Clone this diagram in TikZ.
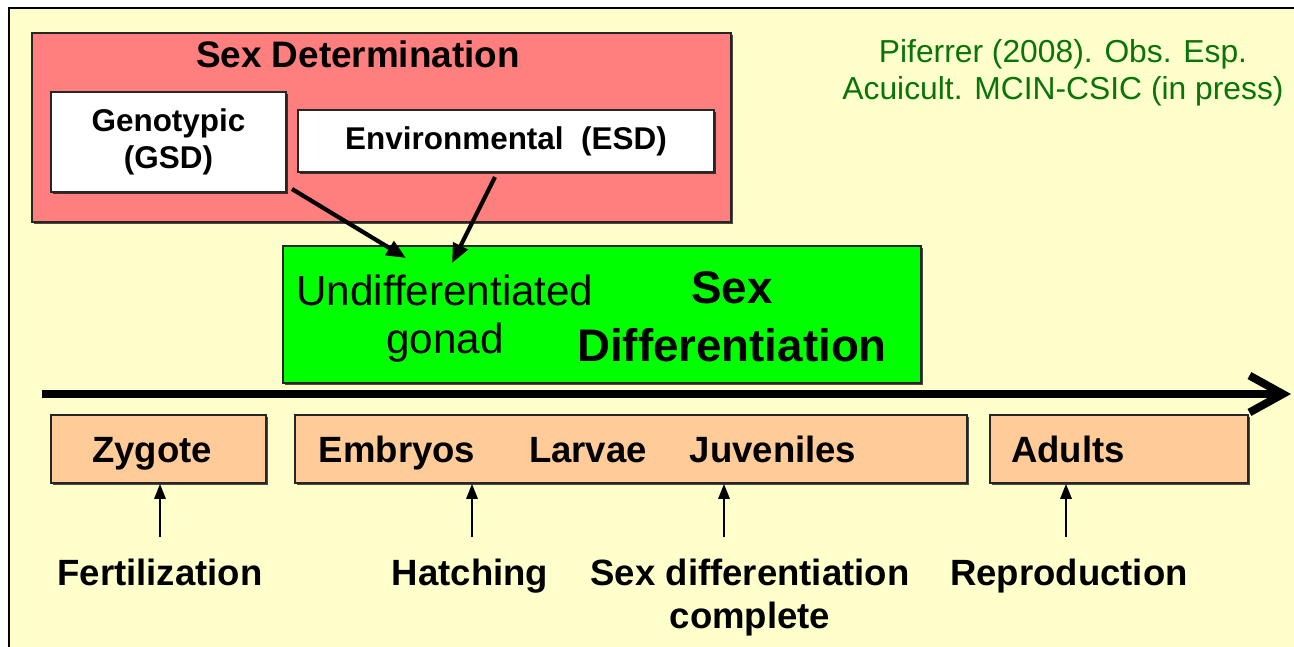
\documentclass[tikz,border=0pt]{standalone}
\usepackage{fontspec}
\setmainfont{Liberation Sans}
\usepackage{tikz}
\usetikzlibrary{positioning}
\usetikzlibrary{arrows.meta,shadows}

\definecolor{bgyellow}{HTML}{FFFFCC}
\definecolor{detred}{HTML}{FF7F7F}
\definecolor{difgreen}{HTML}{00FF00}
\definecolor{stagepeach}{HTML}{FFCC99}
\definecolor{citegreen}{HTML}{0A740A}

\tikzset{
  box/.style={draw=black!85,line width=1.1pt,inner sep=0pt,
    drop shadow={shadow xshift=0.035cm,shadow yshift=-0.035cm,fill=black,opacity=.7}},
  stagebox/.style={box,fill=stagepeach,minimum height=1.36cm},
  lbl/.style={inner sep=0pt,font=\fontsize{20.8}{24.4}\selectfont\bfseries,align=center},
  uparrow/.style={-{Triangle[length=8.5pt,width=6.5pt]},line width=1.1pt},
  detarrow/.style={-{Triangle[length=11pt,width=9pt]},line width=2.4pt}
}

\begin{document}
\begin{tikzpicture}[x=0.02cm,y=-0.02cm]
        \useasboundingbox[fill=white] (0,0) rectangle (1294,646);
        \draw[fill=bgyellow,line width=1.1pt] (9,8) rectangle (1320,680);

        \node[box,fill=detred,minimum width=13.98cm,minimum height=3.78cm] (sexdet) at (381.5,127.5) {};
        \node[lbl,font=\fontsize{21}{25}\selectfont\bfseries,anchor=base] (sexdetlbl) at (358,67) {Sex Determination};
        \node[box,fill=white,minimum width=4.7cm,minimum height=2cm,align=center,
              font=\fontsize{17.9}{21}\selectfont\bfseries] (geno) at (168.5,142) {Genotypic\\(GSD)};
        \node[box,fill=white,minimum width=8.32cm,minimum height=1.24cm,
              font=\fontsize{17.9}{20.4}\selectfont\bfseries] (env) at (506,141) {Environmental~~(ESD)};
        \node[inner sep=0pt,align=center,text=citegreen,font=\fontsize{18.1}{21}\selectfont] (cite) at (1063,73)
              {Piferrer (2008). Obs. Esp.\\ Acuicult. MCIN-CSIC (in press)};

        \node[box,fill=difgreen,minimum width=12.76cm,minimum height=2.74cm] (sexdif) at (602,314.5) {};
        \node[inner sep=0pt,align=center,font=\fontsize{24}{27}\selectfont,anchor=base] (gonad) at (445,353)
              {Undifferentiated\\gonad};
        \node[inner sep=0pt,align=center,font=\fontsize{26}{33}\selectfont\bfseries,anchor=base] (sexdiflbl) at (732,361)
              {Sex\\Differentiation};

        \coordinate (g1) at (292,189);
        \coordinate (g2) at (406,258);
        \coordinate (e1) at (495,177);
        \coordinate (e2) at (452,263);
        \draw[detarrow] (g1) -- (g2);
        \draw[detarrow] (e1) -- (e2);

        \coordinate (tstart) at (42,394);
        \coordinate (tend) at (1291,394);
        \draw[-{Straight Barb[length=19pt,width=21pt]},line width=4.5pt] (tstart) -- (tend);

        \node[stagebox,minimum width=4.3cm] (zygbox) at (158.5,449) {};
        \node[stagebox,minimum width=13.44cm] (midbox) at (631,449) {};
        \node[stagebox,minimum width=5.16cm] (adultbox) at (1119,449) {};
        \node[lbl,anchor=base] (zygote) at (152,462) {Zygote};
        \node[lbl,anchor=base] (embryos) at (397,462) {Embryos};
        \node[lbl,anchor=base] (larvae) at (588,462) {Larvae};
        \node[lbl,anchor=base] (juveniles) at (773,462) {Juveniles};
        \node[lbl,anchor=base] (adults) at (1068,462) {Adults};

        \node[lbl,anchor=base] (fert) at (160,585) {Fertilization};
        \node[lbl,anchor=base] (hatch) at (470,585) {Hatching};
        \node[lbl,anchor=base] (sexcomp) at (750,628) {Sex differentiation\\complete};
        \node[lbl,anchor=base] (repro) at (1069,585) {Reproduction};

        \coordinate (a1) at (160,537);
        \coordinate (a2) at (472,537);
        \coordinate (a3) at (724,537);
        \coordinate (a4) at (1066,537);
        \draw[uparrow] (a1) -- (a1 |- zygbox.south);
        \draw[uparrow] (a2) -- (a2 |- midbox.south);
        \draw[uparrow] (a3) -- (a3 |- midbox.south);
        \draw[uparrow] (a4) -- (a4 |- adultbox.south);
      \end{tikzpicture}
\end{document}
